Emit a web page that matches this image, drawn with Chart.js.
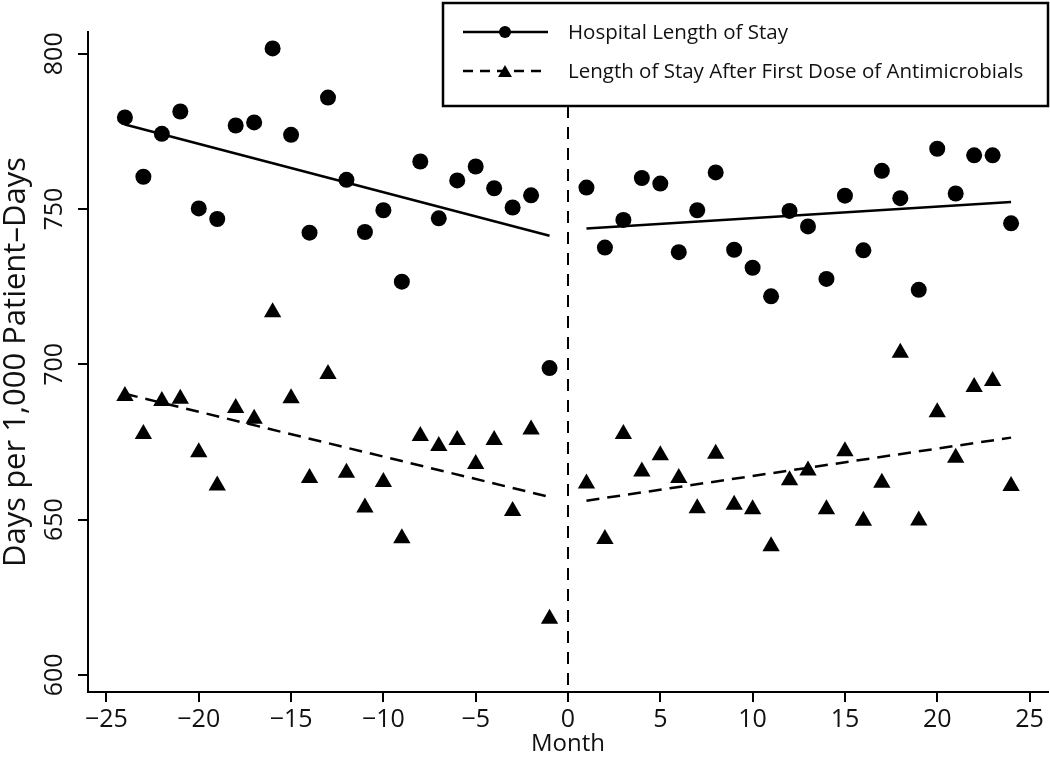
<!DOCTYPE html>
<html>
<head>
<meta charset="utf-8">
<script src="https://cdn.jsdelivr.net/npm/chart.js@4"></script>
<style>
  body { margin: 0; background: #fff; }
  #wrap { width: 1050px; height: 760px; }
</style>
</head>
<body>
<div id="wrap"><canvas id="myChart" width="1050" height="760"></canvas></div>
<script>
// data
var months = [-24, -23, -22, -21, -20, -19, -18, -17, -16, -15, -14, -13, -12, -11, -10, -9, -8, -7, -6, -5, -4, -3, -2, -1,
              1, 2, 3, 4, 5, 6, 7, 8, 9, 10, 11, 12, 13, 14, 15, 16, 17, 18, 19, 20, 21, 22, 23, 24];
var hospLos = [779.5, 760.4, 774.2, 781.4, 750.2, 746.8, 776.9, 777.9, 801.7, 773.9, 742.4, 785.9, 759.4, 742.6, 749.6, 726.6, 765.3, 747.0, 759.2, 763.7, 756.7, 750.5, 754.4, 698.8,
               756.9, 737.6, 746.5, 760.0, 758.2, 736.1, 749.6, 761.8, 736.9, 731.1, 721.9, 749.4, 744.4, 727.5, 754.3, 736.7, 762.3, 753.5, 724.0, 769.4, 755.0, 767.3, 767.3, 745.4];
var abxLos = [689.8, 677.6, 688.2, 688.9, 671.7, 661.0, 685.9, 682.5, 716.8, 689.1, 663.4, 696.9, 665.1, 653.9, 662.1, 644.0, 676.9, 673.7, 675.6, 667.9, 675.6, 652.8, 679.0, 618.1,
              661.6, 643.8, 677.6, 665.5, 670.7, 663.4, 653.7, 671.2, 654.8, 653.3, 641.4, 662.7, 665.8, 653.3, 672.0, 649.6, 661.9, 703.7, 649.7, 684.6, 669.9, 692.7, 694.6, 660.8];

// fitted segments (start / end)
var fitPreMonths = [-24, -1];
var fitPostMonths = [1, 24];
var hospFitPre = [777.2, 741.4];
var hospFitPost = [743.7, 752.3];
var abxFitPre = [690.5, 657.3];
var abxFitPost = [656.1, 676.4];

var xTicks = [-25, -20, -15, -10, -5, 0, 5, 10, 15, 20, 25];
var yTicks = [600, 650, 700, 750, 800];
var interventionMonth = 0;

var labels = ["Hospital Length of Stay", "Length of Stay After First Dose of Antimicrobials"];

function pts(xs, ys) {
    var out = [];
    for (var i = 0; i < xs.length; i++) out.push({ x: xs[i], y: ys[i] });
    return out;
}

var FONT = "'Open Sans', 'DejaVu Sans', sans-serif";
var dashFit = [13, 8];

// legend box in the top right corner + vertical line at month 0
var legendBox = { left: 443, top: 3, right: 1048, bottom: 106 };

var extras = {
    id: 'extras',
    afterDatasetsDraw: function (chart) {
        var ctx = chart.ctx;
        var xs = chart.scales.x;
        var area = chart.chartArea;
        ctx.save();

        // vertical dashed line
        var x0 = xs.getPixelForValue(interventionMonth);
        ctx.strokeStyle = '#000';
        ctx.lineWidth = 2;
        ctx.setLineDash([12, 9]);
        ctx.beginPath();
        ctx.moveTo(x0, legendBox.bottom);
        ctx.lineTo(x0, area.bottom);
        ctx.stroke();
        ctx.setLineDash([]);

        // legend
        ctx.fillStyle = '#fff';
        ctx.fillRect(legendBox.left, legendBox.top, legendBox.right - legendBox.left, legendBox.bottom - legendBox.top);
        ctx.lineWidth = 2.5;
        ctx.strokeStyle = '#000';
        ctx.strokeRect(legendBox.left, legendBox.top, legendBox.right - legendBox.left, legendBox.bottom - legendBox.top);

        var rows = [32, 71];
        for (var i = 0; i < 2; i++) {
            var y = rows[i];
            ctx.lineWidth = 2.5;
            ctx.setLineDash(i === 0 ? [] : [10, 7]);
            ctx.beginPath();
            ctx.moveTo(463, y);
            ctx.lineTo(548, y);
            ctx.stroke();
            ctx.setLineDash([]);
            ctx.fillStyle = '#000';
            Chart.helpers.drawPoint(ctx, {
                pointStyle: i === 0 ? 'circle' : 'triangle',
                radius: i === 0 ? 6 : 8,
                borderWidth: 0
            }, 505, i === 0 ? y : y + 2);
            ctx.fillStyle = '#111';
            ctx.font = '20.5px ' + FONT;
            ctx.textBaseline = 'middle';
            ctx.textAlign = 'left';
            ctx.fillText(labels[i], 568, y + 1);
        }
        ctx.restore();
    }
};

new Chart("myChart", {
    type: "scatter",
    data: {
        datasets: [
            { label: labels[0], data: pts(months, hospLos), pointStyle: 'circle', pointRadius: 8,
              backgroundColor: '#000', borderColor: '#000', borderWidth: 0 },
            { label: labels[1], data: pts(months, abxLos), pointStyle: 'triangle', pointRadius: 10,
              backgroundColor: '#000', borderColor: '#000', borderWidth: 0 },
            { type: 'line', data: pts(fitPreMonths, hospFitPre), borderColor: '#000', borderWidth: 2.5, pointRadius: 0, fill: false },
            { type: 'line', data: pts(fitPostMonths, hospFitPost), borderColor: '#000', borderWidth: 2.5, pointRadius: 0, fill: false },
            { type: 'line', data: pts(fitPreMonths, abxFitPre), borderColor: '#000', borderWidth: 2.5, borderDash: dashFit, pointRadius: 0, fill: false },
            { type: 'line', data: pts(fitPostMonths, abxFitPost), borderColor: '#000', borderWidth: 2.5, borderDash: dashFit, pointRadius: 0, fill: false }
        ]
    },
    options: {
        responsive: false,
        animation: false,
        layout: { autoPadding: false, padding: { top: 32, right: 2, left: 0, bottom: 0 } },
        plugins: {
            legend: { display: false },
            tooltip: { enabled: false }
        },
        scales: {
            x: {
                type: 'linear',
                min: -26,
                max: 26,
                afterBuildTicks: function (s) { s.ticks = xTicks.map(function (v) { return { value: v }; }); },
                afterFit: function (s) { s.height = 68; s.paddingLeft = 0; s.paddingRight = 0; },
                border: { display: true, color: '#000', width: 2 },
                grid: { display: true, drawOnChartArea: false, drawTicks: true, tickLength: 10, tickColor: '#000', lineWidth: 2 },
                ticks: {
                    color: '#111', padding: 3, maxRotation: 0,
                    font: { family: FONT, size: 25 },
                    callback: function (v) { return v < 0 ? '\u2212' + Math.abs(v) : '' + v; }
                },
                title: { display: true, text: 'Month', color: '#111', font: { family: FONT, size: 24 }, padding: { top: 0, bottom: 1 } }
            },
            y: {
                type: 'linear',
                min: 594.5,
                max: 807,
                afterBuildTicks: function (s) { s.ticks = yTicks.map(function (v) { return { value: v }; }); },
                afterFit: function (s) { s.width = 88; s.paddingTop = 0; s.paddingBottom = 0; },
                border: { display: true, color: '#000', width: 2 },
                grid: { display: true, drawOnChartArea: false, drawTicks: true, tickLength: 10, tickColor: '#000', lineWidth: 2 },
                ticks: {
                    color: '#111', padding: 2, minRotation: 90, maxRotation: 90, crossAlign: 'center',
                    font: { family: FONT, size: 25 }
                },
                title: { display: true, text: 'Days per 1,000 Patient\u2013Days', color: '#111', font: { family: FONT, size: 31, lineHeight: 1.0 }, padding: { top: 1, bottom: 0 } }
            }
        }
    },
    plugins: [extras]
});
</script>
</body>
</html>
